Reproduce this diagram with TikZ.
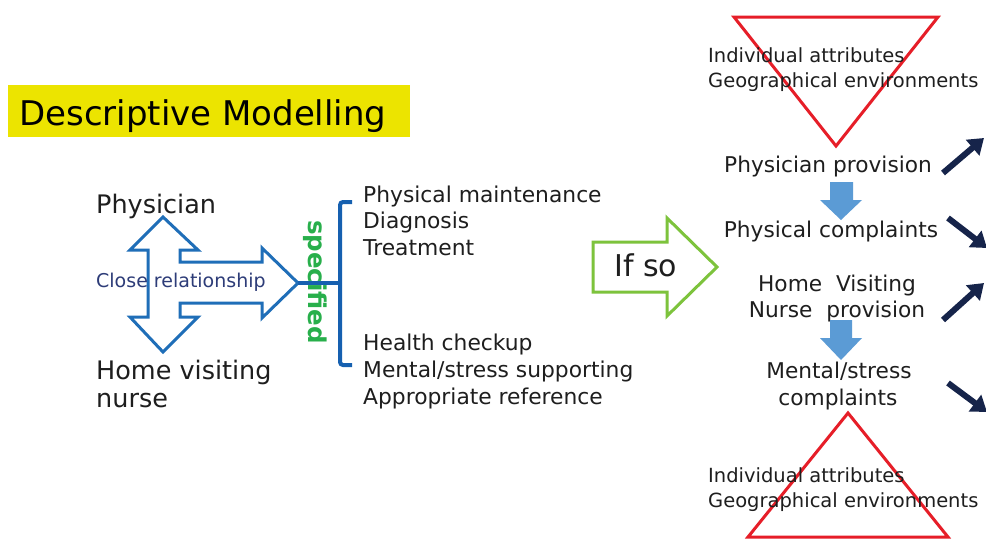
\documentclass[tikz,border=0pt]{standalone}
\usepackage{fontspec}
\setmainfont{DejaVu Sans}
\usetikzlibrary{arrows.meta}

\definecolor{titleyellow}{RGB}{236,228,0}
\definecolor{relblue}{RGB}{31,110,184}
\definecolor{brackblue}{RGB}{22,96,176}
\definecolor{specgreen}{RGB}{40,175,75}
\definecolor{ifgreen}{RGB}{125,195,60}
\definecolor{trired}{RGB}{230,30,40}
\definecolor{flowblue}{RGB}{91,155,213}
\definecolor{navyarrow}{RGB}{22,36,74}
\definecolor{ink}{RGB}{30,30,30}
\definecolor{relnavy}{RGB}{45,60,120}

\tikzset{
  txt/.style={anchor=base west, inner sep=0pt, text=ink},
  ctxt/.style={anchor=base, inner sep=0pt, text=ink},
  fsz/.style={font=\fontsize{#1}{#1}\selectfont},
  hollow/.style={line width=3pt, fill=white, line join=miter},
  triangle/.style={draw=trired, line width=3pt, line join=miter},
  flowarrow/.style={fill=flowblue},
  trend/.style={draw=navyarrow, line width=6pt, -{Triangle[length=15pt,width=20pt]}},
}

\begin{document}
\begin{tikzpicture}[x=1pt,y=-1pt]
\useasboundingbox (0,0) rectangle (986,539);
\fill[white] (0,0) rectangle (986,539);

% title banner
\fill[titleyellow] (8,85) rectangle (410,137);
\node[txt, fsz=34, text=black] (title) at (19,125) {Descriptive Modelling};

% actors
\node[txt, fsz=25.5] (phys) at (96,213) {Physician};
\node[txt, fsz=25.5] (home) at (96,379) {Home visiting};
\node[txt, fsz=25.5] (nurse) at (96,407) {nurse};

% hollow double arrow with branch to the right
\draw[relblue, hollow] (163,217) -- (198,250) -- (180,250) -- (180,262)
  -- (262,262) -- (262,248) -- (298,283) -- (262,318) -- (262,303)
  -- (180,303) -- (180,317) -- (198,317) -- (163,352) -- (130,317)
  -- (148,317) -- (148,250) -- (130,250) -- cycle;
\coordinate (reltip) at (298,283);
\node[txt, fsz=19, text=relnavy] (rel) at (96,287) {Close relationship};

% bracket
\coordinate (brk) at (340,283);
\draw[brackblue, line width=4pt] (reltip) -- (brk);
\draw[brackblue, line width=4pt, rounded corners=3pt]
  (352,202) -- (340,202) -- (340,365) -- (352,365);
\node[inner sep=0pt, rotate=-90, fsz=24.5, text=specgreen, font=\fontsize{24.5}{24.5}\selectfont\bfseries]
  (spec) at (315,282) {specified};

% tasks
\node[txt, fsz=21.8] (t1) at (363,202) {Physical maintenance};
\node[txt, fsz=21.8] (t2) at (363,228) {Diagnosis};
\node[txt, fsz=21.8] (t3) at (363,255) {Treatment};
\node[txt, fsz=21.8] (t4) at (363,350) {Health checkup};
\node[txt, fsz=21.8] (t5) at (363,377) {Mental/stress supporting};
\node[txt, fsz=21.8] (t6) at (363,404) {Appropriate reference};

% "If so" arrow
\draw[ifgreen, hollow] (593,242) -- (667,242) -- (667,218) -- (717,267)
  -- (667,316) -- (667,292) -- (593,292) -- cycle;
\node[txt, fsz=30] (ifso) at (614,276) {If so};

% context triangles
\draw[triangle] (734,17) -- (938,17) -- (836,146) -- cycle;
\draw[triangle] (848,413) -- (948,537) -- (748,537) -- cycle;
\node[txt, fsz=19.5] (a1) at (708,62) {Individual attributes};
\node[txt, fsz=19.5] (g1) at (708,87) {Geographical environments};
\node[txt, fsz=19.5] (a2) at (708,482) {Individual attributes};
\node[txt, fsz=19.5] (g2) at (708,507) {Geographical environments};

% provision / complaint column
\node[ctxt, fsz=21.7] (pp) at (828,172) {Physician provision};
\node[ctxt, fsz=21.7] (pc) at (831,237) {Physical complaints};
\node[ctxt, fsz=21.7] (hv) at (837,291) {Home\ \ Visiting};
\node[ctxt, fsz=21.7] (np) at (837,317) {Nurse\ \ provision};
\node[ctxt, fsz=21.7] (ms) at (839,378) {Mental/stress};
\node[ctxt, fsz=21.7] (mc) at (838,405) {complaints};

\fill[flowarrow] (830,182) -- (853,182) -- (853,200) -- (862,200) -- (841,220)
  -- (820,200) -- (830,200) -- cycle;
\fill[flowarrow] (830,320) -- (852,320) -- (852,338) -- (862,338) -- (841,360)
  -- (820,338) -- (830,338) -- cycle;

% trend arrows
\coordinate (u1s) at (943,173); \coordinate (u1e) at (984,138);
\coordinate (d1s) at (948,218); \coordinate (d1e) at (987,248);
\coordinate (u2s) at (943,320); \coordinate (u2e) at (984,283);
\coordinate (d2s) at (948,383); \coordinate (d2e) at (987,412);
\draw[trend] (u1s) -- (u1e);
\draw[trend] (d1s) -- (d1e);
\draw[trend] (u2s) -- (u2e);
\draw[trend] (d2s) -- (d2e);
\end{tikzpicture}
\end{document}
